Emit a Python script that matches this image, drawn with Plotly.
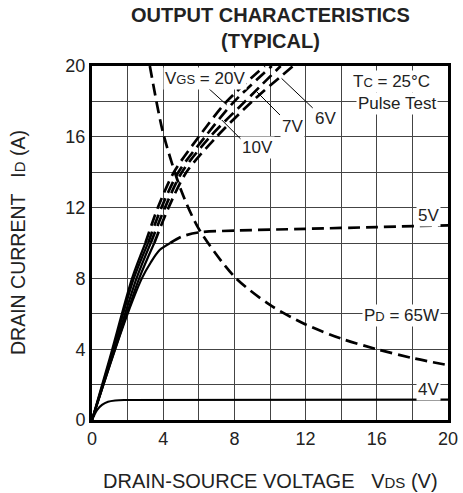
import plotly.graph_objects as go

# ---------------- data ----------------
# VGS = 20V, 10V, 7V, 6V (solid up to ~10 A, dashed above)
v20_v = [0, 1, 2.25, 3.0, 3.7, 4.6, 6.0, 7.57, 9.7]
v20_i = [0, 3.5, 8, 10, 12, 14, 16, 18, 20]
v10_v = [0, 1, 2.35, 3.15, 3.9, 4.85, 6.35, 8.0, 10.1]
v10_i = [0, 3.35, 8, 10, 12, 14, 16, 18, 20]
v7_v = [0, 1, 2.5, 3.3, 4.1, 5.05, 6.63, 8.6, 10.6]
v7_i = [0, 3.2, 8, 10, 12, 14, 16, 18, 20]
v6_v = [0, 1, 2.65, 3.5, 4.3, 5.3, 7.0, 9.0, 11.3]
v6_i = [0, 3.1, 8, 10, 12, 14, 16, 18, 20]
# VGS = 5V
v5s_v = [0, 1, 2.0, 2.8, 3.3, 3.8, 4.4]
v5s_i = [0, 3.1, 6.0, 8.0, 8.9, 9.6, 10.0]
v5d_v = [4.4, 5.0, 6.0, 8.0, 12.0, 16.0, 20.0]
v5d_i = [10.0, 10.35, 10.6, 10.7, 10.8, 10.9, 11.0]
# VGS = 4V
v4_v = [0, 0.28, 0.56, 0.9, 1.3, 1.8, 20]
v4_i = [0, 0.56, 0.85, 1.03, 1.1, 1.13, 1.15]
# PD = 65W limit
pd_v = [3.25, 4, 5, 6, 8, 10, 12, 14, 16, 18, 20]
pd_i = [20, 16.2, 13.0, 10.8, 8.1, 6.5, 5.4, 4.6, 4.0, 3.5, 3.1]

x_ticks = [0, 4, 8, 12, 16, 20]
y_ticks = [0, 4, 8, 12, 16, 20]

FONT = "Liberation Sans, Arial, sans-serif"
DASH = "12px,6px"
SPLIT = 3  # index of the 10 A point

fig = go.Figure()

def add(x, y, dash=None, width=2.2):
    fig.add_trace(go.Scatter(
        x=x, y=y, mode="lines", showlegend=False, hoverinfo="skip",
        line=dict(color="black", width=width, shape="spline", smoothing=0.8,
                  dash=dash if dash else "solid")))

for vv, ii in [(v20_v, v20_i), (v10_v, v10_i), (v7_v, v7_i), (v6_v, v6_i)]:
    add(vv[:SPLIT + 1], ii[:SPLIT + 1])
    add(vv[SPLIT:], ii[SPLIT:], dash=DASH, width=2.7)

add(v5s_v, v5s_i)
add(v5d_v, v5d_i, dash=DASH, width=2.7)
add(v4_v, v4_i)
add(pd_v, pd_i, dash=DASH, width=2.7)

def sub(t, s=13):
    return "<span style='font-size:%dpx'>%s</span>" % (s, t)

labels = [
    ("V" + sub("GS") + " = 20V", 6.35, 19.3),
    ("10V", 9.27, 15.37),
    ("7V", 11.24, 16.6),
    ("6V", 13.1, 17.06),
    ("5V", 18.93, 11.58),
    ("4V", 18.93, 1.75),
    ("P" + sub("D") + " = 65W", 17.36, 5.88),
    ("T" + sub("C") + " = 25°C", 16.85, 19.1),
    ("Pulse Test", 17.13, 17.9),
]
for txt, x, y in labels:
    fig.add_annotation(x=x, y=y, xref="x", yref="y", text=txt, showarrow=False,
                       font=dict(family=FONT, size=17, color="#222"),
                       bgcolor="white", borderpad=1,
                       xanchor="center", yanchor="middle")

leaders = [
    (6.52, 18.76, 7.57, 17.8),
    (8.41, 15.82, 7.29, 16.95),
    (10.56, 17.23, 9.25, 18.55),
    (12.4, 17.63, 10.65, 19.3),
]
for x0, y0, x1, y1 in leaders:
    fig.add_shape(type="line", x0=x0, y0=y0, x1=x1, y1=y1, xref="x", yref="y",
                  line=dict(color="black", width=1))

axis_common = dict(range=[0, 20], showgrid=True, gridcolor="#444", gridwidth=1,
                   minor=dict(dtick=2, tick0=0, showgrid=True, gridcolor="#444", gridwidth=1),
                   showline=True, linecolor="black", linewidth=3, mirror=True,
                   zeroline=False, ticks="", automargin=False,
                   tickfont=dict(family=FONT, size=18, color="#222"))
fig.update_xaxes(tickvals=x_ticks, **axis_common)
fig.update_yaxes(tickvals=y_ticks, **axis_common)

PH = 354.0  # plot height in px
fig.add_annotation(text="DRAIN-SOURCE VOLTAGE   V" + sub("DS", 15) + " (V)",
                   xref="paper", yref="paper", x=0.5, y=-61 / PH,
                   showarrow=False, xanchor="center", yanchor="middle",
                   font=dict(family=FONT, size=20, color="#222"))
fig.add_annotation(text="DRAIN CURRENT   I" + sub("D", 15) + " (A)",
                   xref="paper", yref="paper", x=(18 - 92) / 356, y=0.5,
                   textangle=-90, showarrow=False, xanchor="center", yanchor="middle",
                   font=dict(family=FONT, size=19.5, color="#222"))
fig.add_annotation(text="<b>OUTPUT CHARACTERISTICS<br>(TYPICAL)</b>",
                   xref="paper", yref="paper", x=0.5, y=(420 - 2) / PH,
                   showarrow=False, xanchor="center", yanchor="top",
                   font=dict(family=FONT, size=20, color="#222"))

fig.update_layout(
    width=463, height=493,
    margin=dict(l=92, r=15, t=66, b=73, autoexpand=False),
    paper_bgcolor="white", plot_bgcolor="white",
    showlegend=False,
)

fig.write_html("out.html")
